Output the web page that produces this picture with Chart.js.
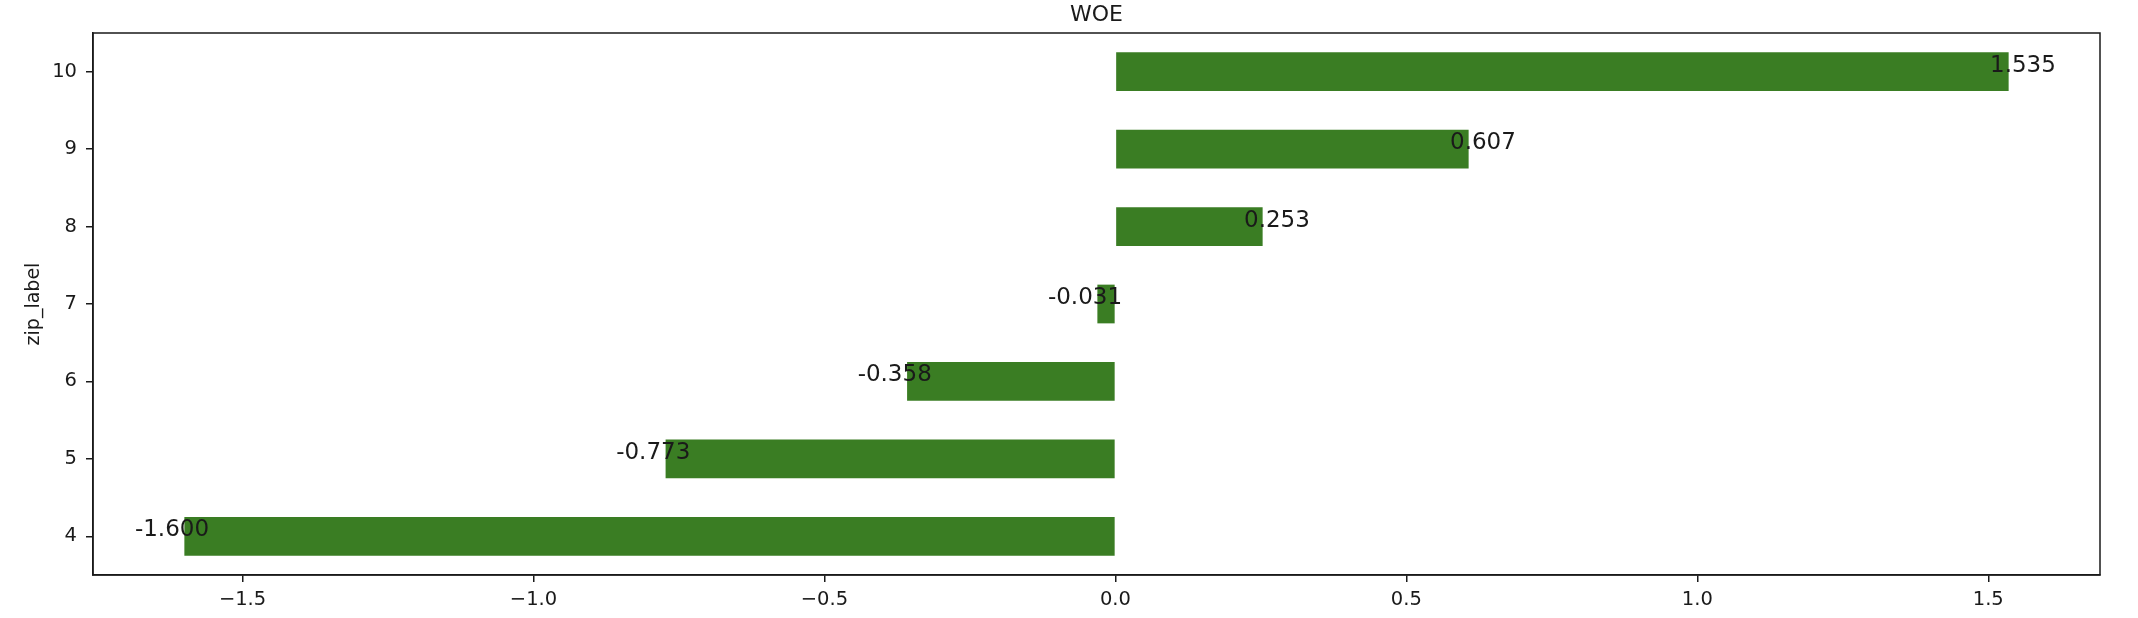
<!DOCTYPE html>
<html>
<head>
<meta charset="utf-8">
<script src="https://cdn.jsdelivr.net/npm/chart.js@4.4.0/dist/chart.umd.min.js"></script>
<style>
  html, body { margin: 0; padding: 0; background: #fff; }
  #woeChart { display: block; }
</style>
</head>
<body>
<canvas id="woeChart" width="2138" height="618"></canvas>
<script>
const zipLabels = ['4', '5', '6', '7', '8', '9', '10'];
const woeValues = [-1.600, -0.773, -0.358, -0.031, 0.253, 0.607, 1.535];
const xTickValues = [-1.5, -1.0, -0.5, 0.0, 0.5, 1.0, 1.5];
const xMin = -1.757;
const xMax = 1.692;
const chartTitle = 'WOE';

const barColor = '#3a7d23';
const inkColor = '#1a1a1a';
const fontFamily = '"DejaVu Sans", sans-serif';

// matplotlib draws a spine on every side, and centres the title over the axes
const framePlugin = {
  id: 'frame',
  afterDraw(chart) {
    const { ctx, chartArea: a } = chart;
    ctx.save();
    ctx.strokeStyle = inkColor;
    ctx.lineWidth = 1.5;
    ctx.strokeRect(a.left, a.top, a.right - a.left, a.bottom - a.top);
    ctx.font = '22px ' + fontFamily;
    ctx.fillStyle = inkColor;
    ctx.textAlign = 'center';
    ctx.textBaseline = 'alphabetic';
    ctx.fillText(chartTitle, (a.left + a.right) / 2, a.top - 12);
    ctx.restore();
  }
};

// value text sitting on the end of each bar
const valueLabelPlugin = {
  id: 'valueLabels',
  afterDatasetsDraw(chart) {
    const { ctx } = chart;
    const xScale = chart.scales.x;
    const meta = chart.getDatasetMeta(0);
    ctx.save();
    ctx.font = '23px ' + fontFamily;
    ctx.fillStyle = inkColor;
    ctx.textAlign = 'left';
    ctx.textBaseline = 'alphabetic';
    meta.data.forEach((bar, i) => {
      const v = woeValues[i];
      const shift = v > 0 ? -0.032 : -0.085;
      ctx.fillText(v.toFixed(3), xScale.getPixelForValue(v + shift), bar.y);
    });
    ctx.restore();
  }
};

new Chart(document.getElementById('woeChart'), {
  type: 'bar',
  data: {
    labels: zipLabels,
    datasets: [{
      data: woeValues,
      backgroundColor: barColor,
      barPercentage: 0.5,
      categoryPercentage: 1.0
    }]
  },
  options: {
    indexAxis: 'y',
    responsive: false,
    animation: false,
    devicePixelRatio: 1,
    layout: { padding: { left: 0, right: 38, top: 33, bottom: 0 } },
    plugins: {
      legend: { display: false },
      tooltip: { enabled: false },
      title: { display: false }
    },
    scales: {
      x: {
        type: 'linear',
        min: xMin,
        max: xMax,
        afterBuildTicks(scale) {
          scale.ticks = xTickValues.map(v => ({ value: v }));
        },
        ticks: {
          color: inkColor,
          font: { family: fontFamily, size: 19.5 },
          padding: 6,
          maxRotation: 0,
          autoSkip: false,
          callback: v => (v < 0 ? '\u2212' : '') + Math.abs(v).toFixed(1)
        },
        grid: { drawOnChartArea: false, drawTicks: true, tickLength: 7, color: inkColor, lineWidth: 1.5 },
        border: { display: true, color: inkColor, width: 1.5 },
        afterFit(scale) { scale.height = 43; }
      },
      y: {
        reverse: true,
        ticks: {
          color: inkColor,
          font: { family: fontFamily, size: 19.5 },
          padding: 9,
          autoSkip: false
        },
        grid: { offset: false, drawOnChartArea: false, drawTicks: true, tickLength: 7, color: inkColor, lineWidth: 1.5 },
        border: { display: true, color: inkColor, width: 1.5 },
        title: {
          display: true,
          text: 'zip_label',
          color: inkColor,
          font: { family: fontFamily, size: 19 },
          padding: { top: 23, bottom: 0 }
        },
        afterFit(scale) { scale.width = 93; }
      }
    }
  },
  plugins: [framePlugin, valueLabelPlugin]
});
</script>
</body>
</html>
